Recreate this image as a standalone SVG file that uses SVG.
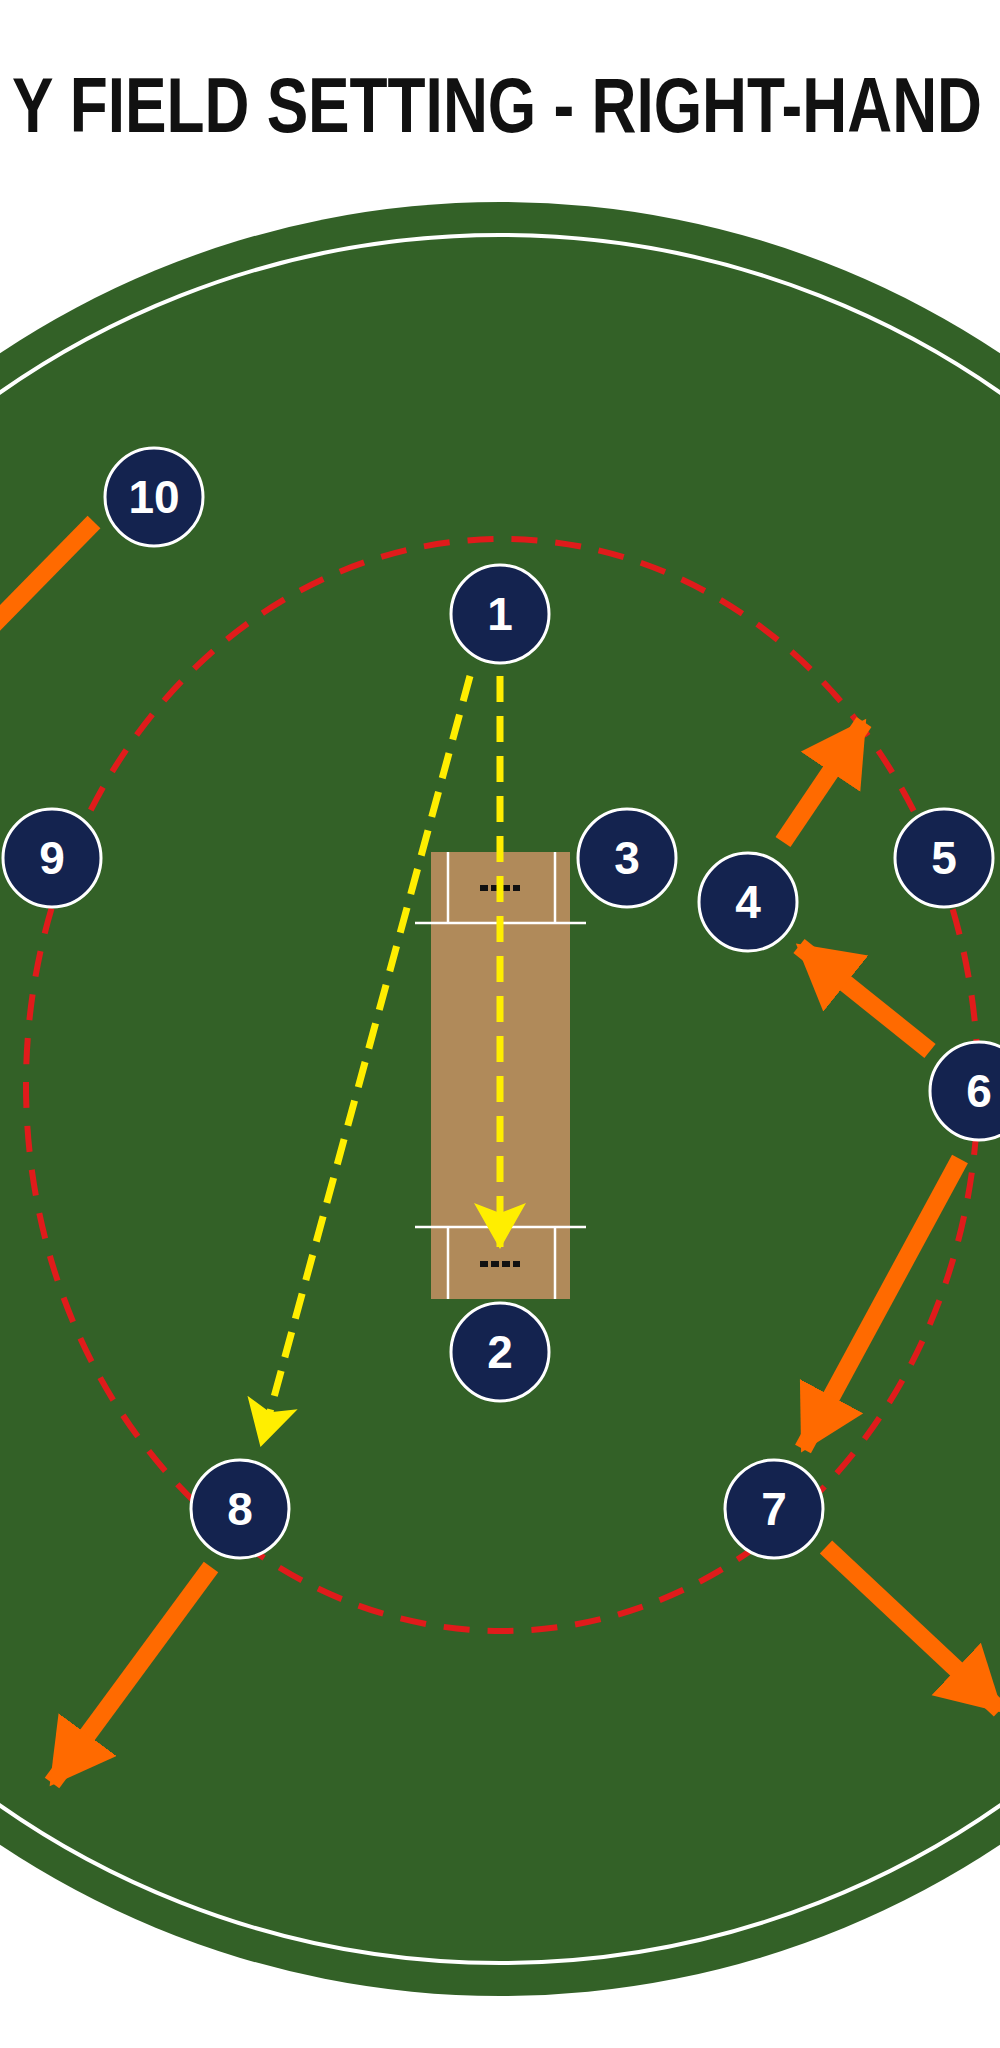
<svg xmlns="http://www.w3.org/2000/svg" width="1000" height="2048" viewBox="0 0 1000 2048">
<style>
.f circle{fill:#14234f;stroke:#fff;stroke-width:3}
.f text{fill:#fff;font-family:"Liberation Sans",Arial,sans-serif;font-weight:bold;font-size:46px;text-anchor:middle;dominant-baseline:central}
.o{stroke:#ff6a00;stroke-width:18;fill:none}
.y{stroke:#ffee00;stroke-width:7;stroke-dasharray:26 14;fill:none}
.w{stroke:#fff;stroke-width:2.5}
</style>
<defs>
<marker id="oh" markerUnits="userSpaceOnUse" markerWidth="80" markerHeight="80" refX="60" refY="36" orient="auto"><path d="M0,0 L64,36 L0,72 Z" fill="#ff6a00"/></marker>
<marker id="yh" markerUnits="userSpaceOnUse" markerWidth="60" markerHeight="60" refX="44" refY="26" orient="auto"><path d="M0,0 L46,26 L0,52 L10,26 Z" fill="#ffee00"/></marker>
</defs>
<rect width="1000" height="2048" fill="#fff"/>
<text x="12" y="132" font-family="Liberation Sans,Arial,sans-serif" font-weight="bold" font-size="78" textLength="970" lengthAdjust="spacingAndGlyphs" fill="#111">Y FIELD SETTING - RIGHT-HAND</text>
<g id="field">
<ellipse cx="500" cy="1099" rx="900" ry="897" fill="#336127"/>
<ellipse cx="500" cy="1099" rx="868" ry="864" fill="none" stroke="#fff" stroke-width="4"/>
<ellipse cx="502" cy="1085" rx="476" ry="546" fill="none" stroke="#e01b1b" stroke-width="6" stroke-dasharray="26 18"/>
</g>
<g id="pitch">
<rect x="431" y="852" width="139" height="447" fill="#b08a5a"/>
<line class="w" x1="415" y1="923" x2="586" y2="923"/>
<line class="w" x1="448" y1="852" x2="448" y2="923"/>
<line class="w" x1="555" y1="852" x2="555" y2="923"/>
<line class="w" x1="415" y1="1227" x2="586" y2="1227"/>
<line class="w" x1="448" y1="1227" x2="448" y2="1299"/>
<line class="w" x1="555" y1="1227" x2="555" y2="1299"/>
<line x1="480" y1="888" x2="520" y2="888" stroke="#111" stroke-width="6" stroke-dasharray="8 3"/>
<line x1="480" y1="1264" x2="520" y2="1264" stroke="#111" stroke-width="6" stroke-dasharray="8 3"/>
</g>
<g id="connectors">
<line class="o" x1="94" y1="522" x2="-10" y2="628"/>
<line class="o" x1="783" y1="842" x2="864" y2="722" marker-end="url(#oh)"/>
<line class="o" x1="930" y1="1051" x2="799" y2="946" marker-end="url(#oh)"/>
<line class="o" x1="960" y1="1159" x2="803" y2="1449" marker-end="url(#oh)"/>
<line class="o" x1="211" y1="1567" x2="52" y2="1783" marker-end="url(#oh)"/>
<line class="o" x1="826" y1="1547" x2="1000" y2="1710" marker-end="url(#oh)"/>
<line class="y" x1="500" y1="676" x2="500" y2="1247" marker-end="url(#yh)"/>
<line class="y" x1="470" y1="676" x2="261" y2="1445" marker-end="url(#yh)"/>
</g>
<g id="n1" class="f"><circle cx="500" cy="614" r="49"/><text x="500" y="614">1</text></g>
<g id="n2" class="f"><circle cx="500" cy="1352" r="49"/><text x="500" y="1352">2</text></g>
<g id="n3" class="f"><circle cx="627" cy="858" r="49"/><text x="627" y="858">3</text></g>
<g id="n4" class="f"><circle cx="748" cy="902" r="49"/><text x="748" y="902">4</text></g>
<g id="n5" class="f"><circle cx="944" cy="858" r="49"/><text x="944" y="858">5</text></g>
<g id="n6" class="f"><circle cx="979" cy="1091" r="49"/><text x="979" y="1091">6</text></g>
<g id="n7" class="f"><circle cx="774" cy="1509" r="49"/><text x="774" y="1509">7</text></g>
<g id="n8" class="f"><circle cx="240" cy="1509" r="49"/><text x="240" y="1509">8</text></g>
<g id="n9" class="f"><circle cx="52" cy="858" r="49"/><text x="52" y="858">9</text></g>
<g id="n10" class="f"><circle cx="154" cy="497" r="49"/><text x="154" y="497">10</text></g>
</svg>
